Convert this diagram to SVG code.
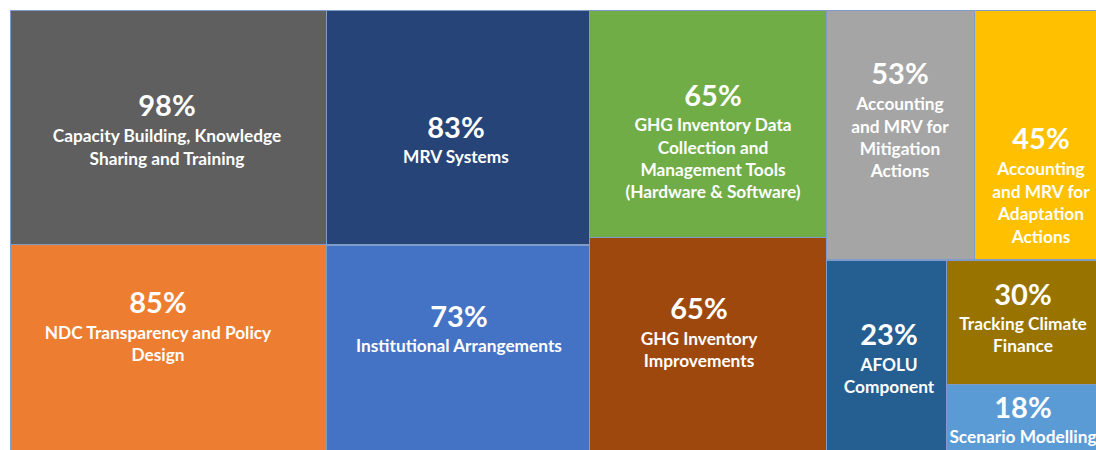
<svg xmlns="http://www.w3.org/2000/svg" width="1096" height="450" viewBox="0 0 1096 450">
<style>
rect.t{stroke:#7f9cc9;stroke-width:1}
text{font-family:Lato,"Open Sans","Liberation Sans",sans-serif;font-weight:bold;fill:#ffffff;text-anchor:middle}
.p{font-size:29px}
.l{font-size:17.3px}
</style>
<rect x="0" y="0" width="1096" height="450" fill="#ffffff"/>
<g id="n98"><rect class="t" x="10.5" y="10.5" width="316" height="234" fill="#5f5f5f"/>
<text class="p" x="167" y="116">98%</text><text class="l" x="167" y="142">Capacity Building, Knowledge</text><text class="l" x="167" y="165">Sharing and Training</text></g>
<g id="n83"><rect class="t" x="326.5" y="10.5" width="263" height="234" fill="#264478"/>
<text class="p" x="456" y="138">83%</text><text class="l" x="456" y="163">MRV Systems</text></g>
<g id="n65a"><rect class="t" x="589.5" y="10.5" width="237" height="227" fill="#70ad47"/>
<text class="p" x="713" y="106">65%</text><text class="l" x="713" y="131">GHG Inventory Data</text><text class="l" x="713" y="154">Collection and</text><text class="l" x="713" y="176">Management Tools</text><text class="l" x="713" y="198">(Hardware &amp; Software)</text></g>
<g id="n53"><rect class="t" x="826.5" y="10.5" width="148" height="249" fill="#a5a5a5"/>
<text class="p" x="900" y="84">53%</text><text class="l" x="900" y="110">Accounting</text><text class="l" x="900" y="133">and MRV for</text><text class="l" x="900" y="155">Mitigation</text><text class="l" x="900" y="177">Actions</text></g>
<g id="n45"><rect class="t" x="974.5" y="10.5" width="130" height="249" fill="#ffc000"/>
<text class="p" x="1041" y="149">45%</text><text class="l" x="1041" y="175">Accounting</text><text class="l" x="1041" y="198">and MRV for</text><text class="l" x="1041" y="220">Adaptation</text><text class="l" x="1041" y="243">Actions</text></g>
<g id="n85"><rect class="t" x="10.5" y="244.5" width="316" height="215" fill="#ed7d31"/>
<text class="p" x="158" y="313">85%</text><text class="l" x="158" y="339">NDC Transparency and Policy</text><text class="l" x="158" y="361">Design</text></g>
<g id="n73"><rect class="t" x="326.5" y="245.5" width="263" height="214" fill="#4472c4"/>
<text class="p" x="459" y="327">73%</text><text class="l" x="459" y="352">Institutional Arrangements</text></g>
<g id="n65b"><rect class="t" x="589.5" y="237.5" width="237" height="222" fill="#9e480e"/>
<text class="p" x="699" y="319">65%</text><text class="l" x="699" y="345">GHG Inventory</text><text class="l" x="699" y="367">Improvements</text></g>
<g id="n23"><rect class="t" x="826.5" y="260.5" width="120" height="199" fill="#255e91"/>
<text class="p" x="889" y="345">23%</text><text class="l" x="889" y="371">AFOLU</text><text class="l" x="889" y="393">Component</text></g>
<g id="n30"><rect class="t" x="946.5" y="260.5" width="158" height="124" fill="#997300"/>
<text class="p" x="1023" y="305">30%</text><text class="l" x="1023" y="330">Tracking Climate</text><text class="l" x="1023" y="352">Finance</text></g>
<g id="n18"><rect class="t" x="946.5" y="384.5" width="158" height="75" fill="#5b9bd5"/>
<text class="p" x="1023" y="418">18%</text><text class="l" x="1023" y="443">Scenario Modelling</text></g>
<g id="connectors"></g>
</svg>
